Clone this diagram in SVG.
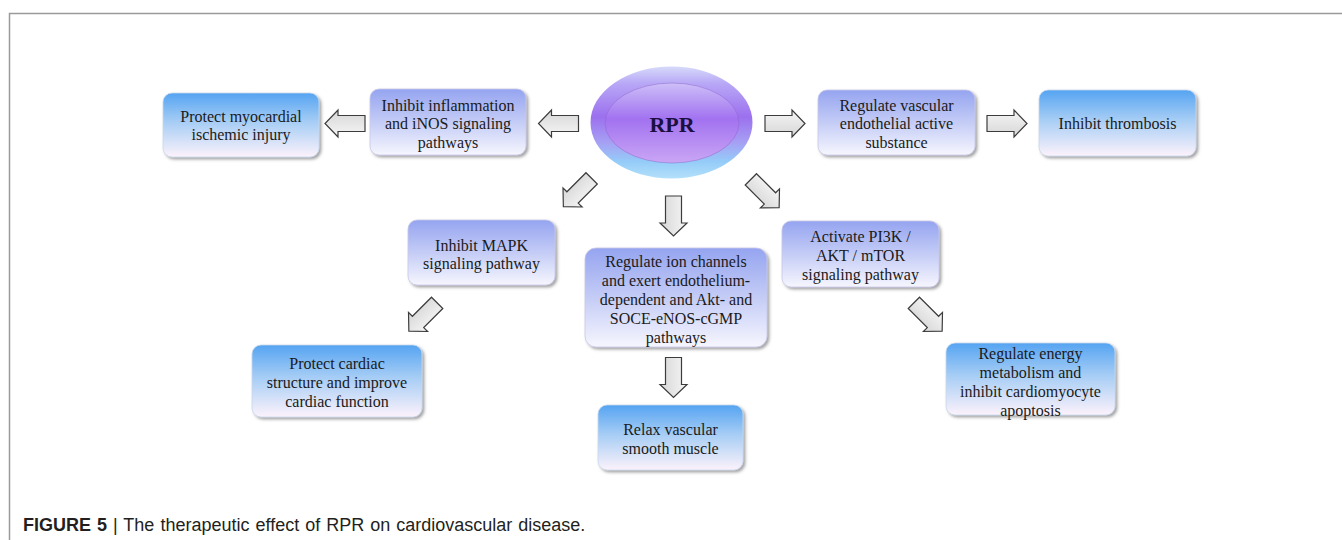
<svg xmlns="http://www.w3.org/2000/svg" width="1342" height="540" viewBox="0 0 1342 540">
<style>
.t{font-family:"Liberation Serif","Times New Roman",serif;font-size:16px;fill:#1a1a1a;text-anchor:middle}
.lav{fill:url(#gLav);stroke:#c8c8e8;stroke-width:0.8;filter:url(#sh)}
.blu{fill:url(#gBlu);stroke:#c8d8ec;stroke-width:0.8;filter:url(#sh)}
.arr{fill:url(#gArr);stroke:#3c3c3c;stroke-width:1.2;stroke-linejoin:miter}
.cap{font-family:"Liberation Sans",Arial,sans-serif;font-size:18px;word-spacing:1px;fill:#231f20}
</style>
<defs>
<linearGradient id="gLav" x1="0" y1="0" x2="0" y2="1">
<stop offset="0" stop-color="#95a4f0"/>
<stop offset="0.5" stop-color="#c4ccf6"/>
<stop offset="1" stop-color="#f6f6fe"/>
</linearGradient>
<linearGradient id="gBlu" x1="0" y1="0" x2="0" y2="1">
<stop offset="0" stop-color="#55a4f2"/>
<stop offset="0.45" stop-color="#a6cdf5"/>
<stop offset="1" stop-color="#fcf2fb"/>
</linearGradient>
<linearGradient id="gArr" x1="0" y1="0" x2="0" y2="1">
<stop offset="0" stop-color="#f6f6f6"/>
<stop offset="1" stop-color="#d6d6d6"/>
</linearGradient>
<linearGradient id="gOut" x1="0" y1="0" x2="0" y2="1">
<stop offset="0" stop-color="#d6dafa"/>
<stop offset="0.15" stop-color="#b8a8f6"/>
<stop offset="0.45" stop-color="#9c70ee"/>
<stop offset="0.68" stop-color="#a6a0f4"/>
<stop offset="0.85" stop-color="#94ccf8"/>
<stop offset="1" stop-color="#b4e0fa"/>
</linearGradient>
<linearGradient id="gIn" x1="0" y1="0" x2="0" y2="1">
<stop offset="0" stop-color="#cdbff8"/>
<stop offset="0.45" stop-color="#a272f0"/>
<stop offset="1" stop-color="#caa6f4"/>
</linearGradient>
<filter id="sh" x="-10%" y="-10%" width="125%" height="130%">
<feDropShadow dx="2" dy="2" stdDeviation="1.8" flood-color="#555" flood-opacity="0.55"/>
</filter>
<path id="ar" d="M-20,-8 H7 V-13.5 L20,0 L7,13.5 V8 H-20 Z"/>
</defs>
<rect width="1342" height="540" fill="#fff"/>
<g id="frame" fill="none" stroke="#9a9a9a" stroke-width="1.5">
<path d="M9.5,540 V13.5 H1342"/>
</g>

<g id="connectors">
<use href="#ar" class="arr" transform="translate(345,123.5) rotate(180)"/>
<use href="#ar" class="arr" transform="translate(558.5,123.5) rotate(180)"/>
<use href="#ar" class="arr" transform="translate(785,123.5)"/>
<use href="#ar" class="arr" transform="translate(1007,123.5)"/>
<use href="#ar" class="arr" transform="translate(577.5,192.5) rotate(135)"/>
<use href="#ar" class="arr" transform="translate(673.5,216) rotate(90)"/>
<use href="#ar" class="arr" transform="translate(765,193.5) rotate(45)"/>
<use href="#ar" class="arr" transform="translate(423,317) rotate(135)"/>
<use href="#ar" class="arr" transform="translate(673.5,377.5) rotate(90)"/>
<use href="#ar" class="arr" transform="translate(928,317) rotate(45)"/>
</g>

<g id="rpr">
<ellipse cx="671.5" cy="122.5" rx="81" ry="56" fill="url(#gOut)"/>
<ellipse cx="672" cy="123" rx="67" ry="40" fill="url(#gIn)" stroke="#8a62c8" stroke-opacity="0.45" stroke-width="1"/>
<text x="672" y="131.5" font-family="Liberation Serif,'Times New Roman',serif" font-size="22" font-weight="bold" fill="#1b1040" text-anchor="middle">RPR</text>
</g>

<g id="n-protect-myo">
<rect class="blu" x="163" y="93" width="156" height="64" rx="9"/>
<text class="t" x="241" y="121.5">Protect myocardial</text>
<text class="t" x="241" y="140">ischemic injury</text>
</g>

<g id="n-inflam">
<rect class="lav" x="370" y="89" width="156" height="66" rx="9"/>
<text class="t" x="448" y="110.5">Inhibit inflammation</text>
<text class="t" x="448" y="129">and iNOS signaling</text>
<text class="t" x="448" y="147.5">pathways</text>
</g>

<g id="n-vascular">
<rect class="lav" x="818" y="90" width="157" height="65" rx="9"/>
<text class="t" x="896.5" y="110.5">Regulate vascular</text>
<text class="t" x="896.5" y="129">endothelial active</text>
<text class="t" x="896.5" y="147.5">substance</text>
</g>

<g id="n-thrombosis">
<rect class="blu" x="1039" y="90" width="157" height="66" rx="9"/>
<text class="t" x="1117.5" y="128.5">Inhibit thrombosis</text>
</g>

<g id="n-mapk">
<rect class="lav" x="408" y="220" width="147" height="65" rx="9"/>
<text class="t" x="481.5" y="250.5">Inhibit MAPK</text>
<text class="t" x="481.5" y="269">signaling pathway</text>
</g>

<g id="n-cardiac">
<rect class="blu" x="252" y="345" width="170" height="72" rx="9"/>
<text class="t" x="337" y="368.5">Protect cardiac</text>
<text class="t" x="337" y="387.5">structure and improve</text>
<text class="t" x="337" y="406.5">cardiac function</text>
</g>

<g id="n-ion">
<rect class="lav" x="585" y="248" width="182" height="99" rx="11"/>
<text class="t" x="676" y="266.5">Regulate ion channels</text>
<text class="t" x="676" y="285.5">and exert endothelium-</text>
<text class="t" x="676" y="304.5">dependent and Akt- and</text>
<text class="t" x="676" y="323.5">SOCE-eNOS-cGMP</text>
<text class="t" x="676" y="342.5">pathways</text>
</g>

<g id="n-relax">
<rect class="blu" x="598" y="405" width="145" height="65" rx="9"/>
<text class="t" x="670.5" y="434.5">Relax vascular</text>
<text class="t" x="670.5" y="453.5">smooth muscle</text>
</g>

<g id="n-pi3k">
<rect class="lav" x="782" y="221" width="157" height="66" rx="9"/>
<text class="t" x="860.5" y="241.5">Activate PI3K /</text>
<text class="t" x="860.5" y="260.5">AKT / mTOR</text>
<text class="t" x="860.5" y="279.5">signaling pathway</text>
</g>

<g id="n-energy">
<rect class="blu" x="946" y="343" width="169" height="72" rx="9"/>
<text class="t" x="1030.5" y="358.5">Regulate energy</text>
<text class="t" x="1030.5" y="377.5">metabolism and</text>
<text class="t" x="1030.5" y="397">inhibit cardiomyocyte</text>
<text class="t" x="1030.5" y="415.5">apoptosis</text>
</g>

<g id="caption">
<text class="cap" x="23" y="531"><tspan font-weight="bold">FIGURE 5</tspan> | The therapeutic effect of RPR on cardiovascular disease.</text>
</g>
</svg>
